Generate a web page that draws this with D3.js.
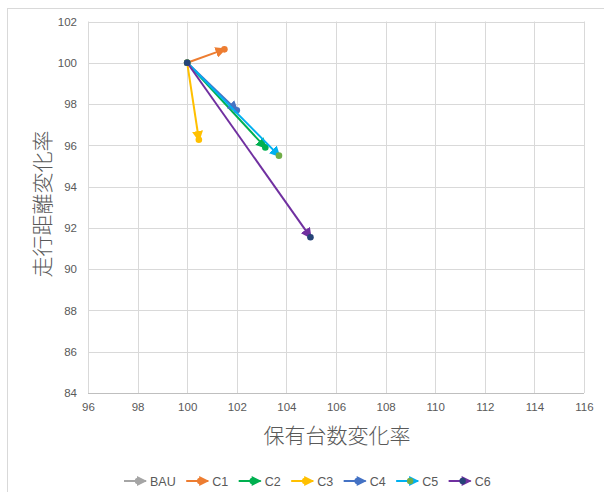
<!DOCTYPE html>
<html>
<head>
<meta charset="utf-8">
<script src="https://cdn.jsdelivr.net/npm/d3@7"></script>
<style>
  html, body { margin: 0; padding: 0; background: #fff; }
  svg { display: block; }
</style>
</head>
<body>
<svg id="chart" width="604" height="492"></svg>
<script>
// Scenario names, start points and end points (vehicle stock change vs. distance travelled change)
const seriesNames = ["BAU", "C1", "C2", "C3", "C4", "C5", "C6"];
const startX = [100, 100, 100, 100, 100, 100, 100];
const startY = [100, 100, 100, 100, 100, 100, 100];
const endX   = [100, 101.5, 103.15, 100.47, 102.0, 103.7, 104.97];
const endY   = [100, 100.65, 95.9, 96.27, 97.7, 95.5, 91.55];
const lineColors   = ["#A5A5A5", "#ED7D31", "#00B050", "#FFC000", "#4472C4", "#00B0F0", "#7030A0"];
const markerColors = ["#A5A5A5", "#ED7D31", "#00B050", "#FFC000", "#4472C4", "#70AD47", "#264478"];
const xTicks = [96, 98, 100, 102, 104, 106, 108, 110, 112, 114, 116];
const yTicks = [84, 86, 88, 90, 92, 94, 96, 98, 100, 102];
const xTitle = "保有台数変化率";
const yTitle = "走行距離変化率";

const svg = d3.select("#chart");
const labelFont = "'Liberation Sans', Arial, sans-serif";
const cjkFont = "'Noto Sans CJK JP', sans-serif";
const textGray = "#595959";

// Chart border
svg.append("rect")
  .attr("x", 7.5).attr("y", 8.5).attr("width", 620).attr("height", 500)
  .attr("fill", "none").attr("stroke", "#D9D9D9");

const x = d3.scaleLinear().domain([96, 116]).range([88, 584]);
const y = d3.scaleLinear().domain([84, 102]).range([393, 21.5]);

// Gridlines
const grid = svg.append("g");
grid.selectAll("line.v").data(xTicks).join("line")
  .attr("x1", d => Math.round(x(d)) + 0.5).attr("x2", d => Math.round(x(d)) + 0.5)
  .attr("y1", y(102)).attr("y2", y(84))
  .attr("stroke", "#D9D9D9").attr("stroke-width", 1);
grid.selectAll("line.h").data(yTicks).join("line")
  .attr("y1", d => Math.round(y(d)) + 0.5).attr("y2", d => Math.round(y(d)) + 0.5)
  .attr("x1", x(96)).attr("x2", x(116))
  .attr("stroke", d => d === 84 ? "#BFBFBF" : "#D9D9D9").attr("stroke-width", 1);

// Axes (labels only)
const xAxis = svg.append("g").attr("transform", `translate(0,${y(84)})`)
  .call(d3.axisBottom(x).tickValues(xTicks).tickSize(0).tickPadding(10).tickFormat(d3.format("d")));
xAxis.select(".domain").remove();
xAxis.selectAll("text").attr("font-family", labelFont).attr("font-size", 11.5).attr("fill", textGray);

const yAxis = svg.append("g").attr("transform", `translate(${x(96)},0)`)
  .call(d3.axisLeft(y).tickValues(yTicks).tickSize(0).tickPadding(11).tickFormat(d3.format("d")));
yAxis.select(".domain").remove();
yAxis.selectAll("text").attr("font-family", labelFont).attr("font-size", 11.5).attr("fill", textGray);

// Axis titles
svg.append("text")
  .attr("x", 337).attr("y", 443).attr("text-anchor", "middle")
  .attr("font-family", cjkFont).attr("font-weight", 300).attr("font-size", 21).attr("fill", textGray)
  .text(xTitle);
svg.append("text")
  .attr("transform", "translate(50,204) rotate(-90)").attr("text-anchor", "middle")
  .attr("font-family", cjkFont).attr("font-weight", 300).attr("font-size", 21).attr("fill", textGray)
  .text(yTitle);

// Arrowhead markers, one per series colour
const defs = svg.append("defs");
seriesNames.forEach((name, i) => {
  defs.append("marker")
    .attr("id", "arrow" + i)
    .attr("viewBox", "0 0 10 10")
    .attr("refX", 8).attr("refY", 5)
    .attr("markerWidth", 5.5).attr("markerHeight", 5.5)
    .attr("markerUnits", "strokeWidth")
    .attr("orient", "auto")
    .append("path").attr("d", "M0,0 L10,5 L0,10 Z").attr("fill", lineColors[i]);
});

// Series: a line from the start point to the end point, arrow at the end, circle markers
const series = seriesNames.map((name, i) => ({
  name, i,
  pts: [[startX[i], startY[i]], [endX[i], endY[i]]]
}));

const plot = svg.append("g");
series.forEach(s => {
  const g = plot.append("g");
  const [p0, p1] = s.pts;
  if (p0[0] !== p1[0] || p0[1] !== p1[1]) {
    g.append("line")
      .attr("x1", x(p0[0])).attr("y1", y(p0[1]))
      .attr("x2", x(p1[0])).attr("y2", y(p1[1]))
      .attr("stroke", lineColors[s.i]).attr("stroke-width", 2)
      .attr("marker-end", `url(#arrow${s.i})`);
  }
  g.selectAll("circle").data(s.pts).join("circle")
    .attr("cx", d => x(d[0])).attr("cy", d => y(d[1]))
    .attr("r", 3.3).attr("fill", markerColors[s.i]);
});

// Legend: symbol (line, arrow, marker) then the name; entries packed by text width
const legendY = 481, symbolW = 26, entryGap = 10.5;
const legend = svg.append("g");
let lx = 124;
seriesNames.forEach((name, i) => {
  const g = legend.append("g").attr("transform", `translate(${lx},${legendY})`);
  g.append("line").attr("x1", 0).attr("x2", 22).attr("y1", 0).attr("y2", 0)
    .attr("stroke", lineColors[i]).attr("stroke-width", 2);
  g.append("path").attr("d", "M13,-5 L23,0 L13,5 Z").attr("fill", lineColors[i]);
  g.append("circle").attr("cx", 14).attr("cy", 0).attr("r", 3.2).attr("fill", markerColors[i]);
  const t = g.append("text").attr("x", symbolW).attr("y", 0).attr("dy", "0.36em")
    .attr("font-family", labelFont).attr("font-size", 12.5).attr("fill", textGray)
    .text(name);
  lx += symbolW + t.node().getComputedTextLength() + entryGap;
});
</script>
</body>
</html>
